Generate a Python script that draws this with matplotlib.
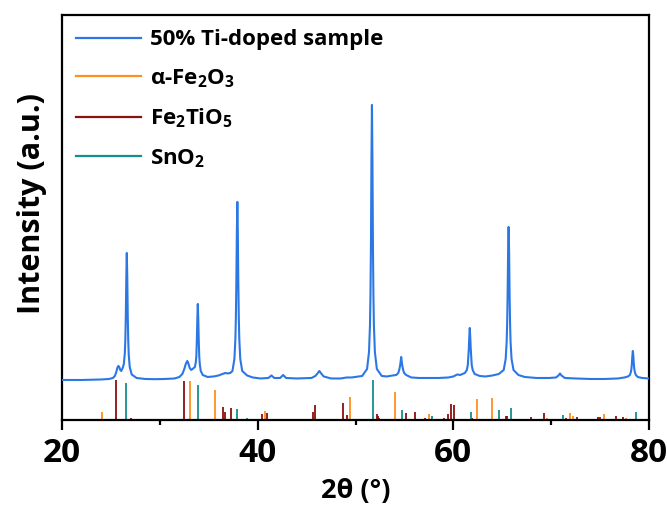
import matplotlib
matplotlib.use("Agg")
import matplotlib.pyplot as plt
from matplotlib.lines import Line2D

plt.rcParams['font.family'] = ['Open Sans', 'DejaVu Sans']
plt.rcParams['font.weight'] = 'bold'
plt.rcParams['mathtext.fontset'] = 'custom'
plt.rcParams['mathtext.rm'] = 'Open Sans:bold'
plt.rcParams['mathtext.it'] = 'Open Sans:bold'
plt.rcParams['mathtext.bf'] = 'Open Sans:bold'
plt.rcParams['mathtext.default'] = 'rm'

# Measured XRD pattern (2theta in degrees, intensity in a.u.)
two_theta = [
    20.0, 21.0, 22.0, 23.0, 24.0, 24.8, 25.2, 25.4, 25.55, 25.65, 25.75, 25.85, 25.95,
    26.05, 26.2, 26.32, 26.42, 26.47, 26.52, 26.57, 26.62, 26.67, 26.72, 26.77, 26.82,
    26.92, 27.12, 27.62, 28.5, 29.5, 30.5, 31.5, 32.0, 32.3, 32.5, 32.65, 32.8, 32.9,
    33.05, 33.2, 33.35, 33.58, 33.68, 33.73, 33.78, 33.83, 33.88, 33.93, 33.98, 34.03,
    34.08, 34.18, 34.38, 34.88, 35.5, 36.0, 36.4, 36.7, 36.9, 37.2, 37.42, 37.62, 37.72,
    37.77, 37.82, 37.87, 37.92, 37.97, 38.02, 38.07, 38.12, 38.22, 38.42, 38.92, 39.5,
    40.3, 41.1, 41.4, 41.7, 42.3, 42.6, 42.9, 44.0, 45.5, 45.9, 46.15, 46.3, 46.45,
    46.75, 47.5, 48.5, 49.1, 49.6, 50.3, 50.68, 51.18, 51.38, 51.48, 51.53, 51.58, 51.63,
    51.68, 51.73, 51.78, 51.83, 51.88, 51.98, 52.18, 52.68, 53.2, 53.8, 54.17, 54.37,
    54.47, 54.57, 54.62, 54.67, 54.72, 54.77, 54.87, 54.97, 55.17, 55.7, 56.5, 57.5,
    58.5, 59.5, 60.0, 60.4, 60.7, 61.18, 61.38, 61.48, 61.58, 61.63, 61.68, 61.73, 61.78,
    61.88, 61.98, 62.18, 62.7, 63.3, 64.0, 64.65, 65.15, 65.35, 65.45, 65.5, 65.55, 65.6,
    65.65, 65.7, 65.75, 65.8, 65.85, 65.95, 66.15, 66.65, 67.3, 68.5, 69.8, 70.5, 70.75,
    70.9, 71.05, 71.4, 72.5, 74.0, 75.5, 76.8, 77.5, 77.85, 78.05, 78.15, 78.2, 78.25,
    78.3, 78.35, 78.4, 78.45, 78.5, 78.55, 78.65, 78.85, 79.3, 80.0]
intensity = [
    40, 40, 40, 40.3, 40.5, 41, 42, 44, 48, 52, 54, 53, 50,
    49, 52, 56, 67, 80, 104, 142, 167, 142, 103, 79, 65,
    53, 45.5, 42, 41, 40.8, 41, 41.5, 43, 46, 51, 56, 59, 57,
    52, 50, 51, 53, 58, 64, 79, 101, 116, 100, 78, 63,
    56, 49, 45, 43, 43.5, 44.5, 46, 47, 46.5, 47, 49, 61, 81,
    102, 137, 187, 218, 187, 137, 102, 81, 61, 49, 44.5, 42.5,
    41.5, 42, 44.5, 42, 42, 45, 42, 41.5, 42, 44, 47, 49, 47,
    43.5, 41.5, 41.5, 42.5, 42.5, 43.5, 44, 51, 68, 95, 125, 177, 260,
    315, 260, 177, 125, 95, 68, 51, 44, 43.5, 44.5, 45, 47,
    50, 55, 59, 63, 59, 55, 50, 47, 45, 42.5, 42, 42,
    42, 42.5, 43.5, 45.5, 45, 47, 50, 55, 71, 83, 92, 83, 71,
    55, 50, 46, 44, 43.5, 44.5, 46, 50, 61, 78, 96, 126, 169,
    193, 169, 126, 96, 78, 61, 50, 45, 43, 42, 42, 42.5, 44.5,
    46.5, 44.5, 42, 41.5, 41, 41, 41.5, 42.5, 43.5, 45, 48, 51, 56,
    64, 69, 64, 56, 51, 48, 45, 43, 42, 41.5]

# Reference diffraction lines
fe2o3_pos = [24.12, 33.12, 35.64, 40.75, 49.44, 54.07, 57.5, 62.39, 63.95, 69.54,
             71.9, 72.2, 75.37, 77.65]
fe2o3_int = [8.3, 39, 30, 9, 22.7, 28, 6, 21, 21.7, 2, 7.3, 4, 6, 2]

fe2tio5_pos = [25.49, 27.02, 31.2, 32.47, 36.49, 36.62, 37.27, 40.47, 40.93, 43.6,
               45.7, 45.83, 48.72, 49.16, 52.17, 52.3, 52.42, 55.13, 56.08, 57.1,
               59.04, 59.49, 59.76, 60.04, 61.9, 65.35, 65.5, 67.97, 69.24, 71.5,
               72.64, 74.79, 75.0, 76.63, 77.31]
fe2tio5_int = [40, 2.3, 1, 39, 12.7, 8, 12, 6, 7, 1,
               8, 15, 16.7, 5, 6, 4, 2, 7, 8, 1.5,
               1.5, 6, 16, 15, 1.5, 4, 4, 3.3, 6.7, 2,
               3.3, 2.7, 2.7, 3.7, 3]

sno2_pos = [26.58, 33.87, 37.92, 38.94, 51.76, 54.72, 57.79, 61.84, 64.7, 65.9,
            71.21, 78.64]
sno2_int = [37, 35, 11, 2, 40, 10, 4, 8, 9.7, 11.7, 4.7, 8]

labels = ['50% Ti-doped sample', r'α-Fe$_2$O$_3$', r'Fe$_2$TiO$_5$', r'SnO$_2$']
colors = ['#2B78E4', '#FF8F1F', '#8B1010', '#12908E']

fig = plt.figure(figsize=(6.67, 5.15), dpi=100)
ax = fig.add_axes([0.093, 0.1845, 0.880, 0.7865])

ax.plot(two_theta, intensity, color=colors[0], lw=1.5, zorder=3)
ax.vlines(fe2o3_pos, 0, fe2o3_int, color=colors[1], lw=1.3)
ax.vlines(fe2tio5_pos, 0, fe2tio5_int, color=colors[2], lw=1.3)
ax.vlines(sno2_pos, 0, sno2_int, color=colors[3], lw=1.3)

ax.set_xlim(20, 80)
ax.set_ylim(0, 405)
ax.set_xticks([20, 40, 60, 80])
ax.set_xticks([30, 50, 70], minor=True)
ax.set_yticks([])
ax.tick_params(axis='x', which='major', length=7, width=1.6, direction='out',
               labelsize=24, pad=5)
ax.tick_params(axis='x', which='minor', length=3.5, width=1.6, direction='out')
for lbl in ax.get_xticklabels():
    lbl.set_fontweight('bold')
for sp in ax.spines.values():
    sp.set_linewidth(1.6)

ax.set_xlabel('2θ (°)', fontsize=19.5, fontweight='bold', labelpad=6)
ax.set_ylabel('Intensity (a.u.)', fontsize=22, fontweight='bold')
ax.yaxis.set_label_coords(-0.025, 0.535)

proxy = [Line2D([], [], color=c, lw=1.6) for c in colors]
ax.legend(proxy, labels, loc='upper left', frameon=False, fontsize=16,
          handlelength=2.9, handletextpad=0.4, labelspacing=0.76,
          borderaxespad=0.3, borderpad=0.35)

fig.savefig('out.png', dpi=100)
